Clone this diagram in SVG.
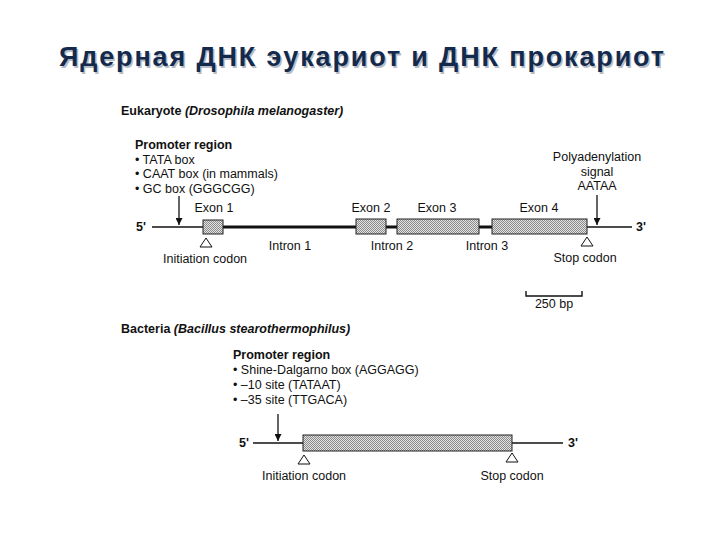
<svg xmlns="http://www.w3.org/2000/svg" width="720" height="540" viewBox="0 0 720 540">
<defs>
<pattern id="stip" width="2" height="2" patternUnits="userSpaceOnUse">
<rect width="2" height="2" fill="#e4e4e4"/>
<rect width="1" height="1" fill="#8a8a8a"/>
<rect x="1" y="1" width="1" height="1" fill="#8a8a8a"/>
</pattern>
<marker id="ah" viewBox="0 0 10 10" refX="10" refY="5" markerWidth="7" markerHeight="7" markerUnits="userSpaceOnUse" orient="auto">
<path d="M0,0 L10,5 L0,10 z" fill="#111"/>
</marker>
</defs>
<style>
.t{font-family:"Liberation Sans",Arial,sans-serif;font-size:12.5px;fill:#111}
.b{font-weight:bold}
.i{font-style:italic}
.exon{fill:url(#stip);stroke:#222;stroke-width:1}
.thin{stroke:#111;stroke-width:1.6;fill:none}
.thick{stroke:#111;stroke-width:3.2;fill:none}
.tri{fill:#fff;stroke:#111;stroke-width:1}
.arr{stroke:#111;stroke-width:1.3;fill:none}
.title{font-family:"Liberation Sans",Arial,sans-serif;font-size:27px;font-weight:bold;fill:#142a4c}
</style>
<rect width="720" height="540" fill="#fff"/>
<g id="title">
<text class="title" x="59" y="66" textLength="605" style="fill:#b8bcc4" dx="1.5" dy="1.5">Ядерная ДНК эукариот и ДНК прокариот</text>
<text class="title" x="59" y="66" textLength="605">Ядерная ДНК эукариот и ДНК прокариот</text>
</g>
<g id="connectors">
<line class="thin" x1="152" y1="227" x2="203" y2="227"/>
<line class="thick" x1="223" y1="227" x2="492" y2="227"/>
<line class="thin" x1="587" y1="227" x2="632" y2="227"/>
<line class="arr" x1="179" y1="196" x2="179" y2="225" marker-end="url(#ah)"/>
<line class="arr" x1="597" y1="195" x2="597" y2="225" marker-end="url(#ah)"/>
<path class="thin" d="M526,291 V296 H582 V291" style="stroke-width:1.4"/>
<line class="thin" x1="253" y1="443" x2="303" y2="443"/>
<line class="thin" x1="512" y1="443" x2="563" y2="443"/>
<line class="arr" x1="278" y1="414" x2="278" y2="441" marker-end="url(#ah)"/>
</g>
<g id="eukaryote">
<text class="t b" x="121" y="115">Eukaryote <tspan class="i">(Drosophila melanogaster)</tspan></text>
<text class="t b" x="135" y="149">Promoter region</text>
<text class="t" x="135" y="163.5">• TATA box</text>
<text class="t" x="135" y="178">• CAAT box (in mammals)</text>
<text class="t" x="135" y="192.5">• GC box (GGGCGG)</text>
<text class="t" x="597" y="161" text-anchor="middle">Polyadenylation</text>
<text class="t" x="597" y="175.5" text-anchor="middle">signal</text>
<text class="t" x="597" y="190" text-anchor="middle">AATAA</text>
<text class="t b" x="136" y="231">5'</text>
<text class="t b" x="636" y="231">3'</text>
</g>
<g id="exon1"><rect class="exon" x="203" y="220" width="20" height="14"/><text class="t" x="214" y="212" text-anchor="middle">Exon 1</text></g>
<g id="exon2"><rect class="exon" x="356" y="219" width="30" height="15"/><text class="t" x="371" y="212" text-anchor="middle">Exon 2</text></g>
<g id="exon3"><rect class="exon" x="397" y="219" width="82" height="15"/><text class="t" x="437" y="212" text-anchor="middle">Exon 3</text></g>
<g id="exon4"><rect class="exon" x="492" y="219" width="95" height="15"/><text class="t" x="539" y="212" text-anchor="middle">Exon 4</text></g>
<g id="intron1"><text class="t" x="290" y="250" text-anchor="middle">Intron 1</text></g>
<g id="intron2"><text class="t" x="392" y="250" text-anchor="middle">Intron 2</text></g>
<g id="intron3"><text class="t" x="487" y="250" text-anchor="middle">Intron 3</text></g>
<g id="euk-init"><polygon class="tri" points="206,238 200,247 212,247"/><text class="t" x="205" y="263" text-anchor="middle">Initiation codon</text></g>
<g id="euk-stop"><polygon class="tri" points="587,237 581,246 593,246"/><text class="t" x="585" y="262" text-anchor="middle">Stop codon</text></g>
<g id="scale"><text class="t" x="554" y="308" text-anchor="middle">250 bp</text></g>
<g id="bacteria">
<text class="t b" x="121" y="333">Bacteria <tspan class="i">(Bacillus stearothermophilus)</tspan></text>
<text class="t b" x="233" y="359">Promoter region</text>
<text class="t" x="233" y="374">• Shine-Dalgarno box (AGGAGG)</text>
<text class="t" x="233" y="389">• –10 site (TATAAT)</text>
<text class="t" x="233" y="404">• –35 site (TTGACA)</text>
<text class="t b" x="239" y="447">5'</text>
<text class="t b" x="568" y="447">3'</text>
</g>
<g id="gene"><rect class="exon" x="303" y="435" width="209" height="16"/></g>
<g id="bac-init"><polygon class="tri" points="304,455 298,464 310,464"/><text class="t" x="304" y="480" text-anchor="middle">Initiation codon</text></g>
<g id="bac-stop"><polygon class="tri" points="512,453 506,462 518,462"/><text class="t" x="512" y="480" text-anchor="middle">Stop codon</text></g>
</svg>
